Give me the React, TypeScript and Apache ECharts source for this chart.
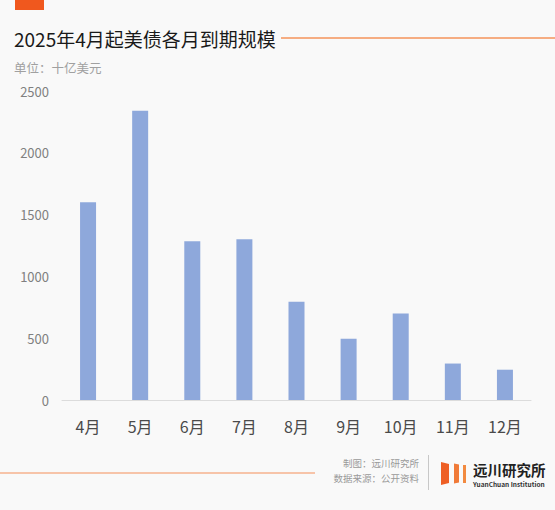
import React, { useEffect, useRef } from "react";
import * as echarts from "echarts";

const categories = ["4月", "5月", "6月", "7月", "8月", "9月", "10月", "11月", "12月"];
const maturities = [1600, 2340, 1285, 1300, 795, 495, 700, 295, 245];
const yTicks = { min: 0, max: 2500, interval: 500 };

const titleText = "2025年4月起美债各月到期规模";
const unitText = "单位：十亿美元";
const creditText = "制图：远川研究所";
const sourceText = "数据来源：公开资料";
const brandText = "远川研究所";
const brandEn = "YuanChuan Institution";

const FONT = '"Noto Sans CJK SC", "Noto Sans", sans-serif';

export default function App() {
  const ref = useRef<HTMLDivElement>(null);
  useEffect(() => {
    document.body.style.margin = "0";
    const chart = echarts.init(ref.current!, null, { renderer: "svg" });
    chart.setOption({
      animation: false,
      backgroundColor: "#F9F9F9",
      textStyle: { fontFamily: FONT },
      grid: { left: 62, right: 24, top: 91, bottom: 110 },
      xAxis: {
        type: "category",
        data: categories,
        axisLine: { lineStyle: { color: "#DCDCDC", width: 1 } },
        axisTick: { show: false },
        axisLabel: { color: "#4A4A4A", fontSize: 16, margin: 18, fontFamily: FONT },
      },
      yAxis: {
        type: "value",
        min: yTicks.min,
        max: yTicks.max,
        interval: yTicks.interval,
        splitLine: { show: false },
        axisLine: { show: false },
        axisTick: { show: false },
        axisLabel: {
          color: "#808080",
          fontSize: 13,
          margin: 13,
          fontFamily: FONT,
          formatter: (v: number) => String(v),
        },
      },
      series: [
        {
          type: "bar",
          data: maturities,
          barWidth: 16,
          itemStyle: { color: "#8EA8DB" },
        },
      ],
      graphic: [
        { type: "rect", shape: { x: 15, y: 0, width: 29, height: 10 }, style: { fill: "#F0581E" } },
        {
          type: "text",
          x: 14,
          y: 38,
          style: { text: titleText, fill: "#1A1A1A", fontSize: 19, fontFamily: FONT, verticalAlign: "middle" },
        },
        { type: "line", shape: { x1: 281, y1: 38, x2: 555, y2: 38 }, style: { stroke: "#F5935A", lineWidth: 1.5 } },
        {
          type: "text",
          x: 14,
          y: 67,
          style: { text: unitText, fill: "#A0A0A0", fontSize: 12.5, fontFamily: FONT, verticalAlign: "middle" },
        },
        { type: "line", shape: { x1: 0, y1: 473, x2: 315, y2: 473 }, style: { stroke: "#F5905A", lineWidth: 1.2 } },
        {
          type: "text",
          x: 419,
          y: 463,
          style: {
            text: creditText, fill: "#9A9A9A", fontSize: 9.5, lineHeight: 10, fontFamily: FONT,
            align: "right", verticalAlign: "middle",
          },
        },
        {
          type: "text",
          x: 419,
          y: 477.5,
          style: {
            text: sourceText, fill: "#9A9A9A", fontSize: 9.5, lineHeight: 10, fontFamily: FONT,
            align: "right", verticalAlign: "middle",
          },
        },
        { type: "line", shape: { x1: 428.5, y1: 455, x2: 428.5, y2: 490 }, style: { stroke: "#C8C8C8", lineWidth: 1 } },
        { type: "polygon", shape: { points: [[441, 462], [449, 464], [449, 483], [441, 485]] }, style: { fill: "#EE5F25" } },
        { type: "polygon", shape: { points: [[454, 463.5], [459, 464.5], [459, 482.5], [454, 483.5]] }, style: { fill: "#F07A38" } },
        { type: "rect", shape: { x: 463, y: 465, width: 3, height: 18 }, style: { fill: "#F28A40" } },
        {
          type: "text",
          x: 473,
          y: 469.5,
          style: {
            text: brandText, fill: "#222222", fontSize: 14.5, lineHeight: 14, fontWeight: "bold", fontFamily: FONT,
            verticalAlign: "middle",
          },
        },
        {
          type: "text",
          x: 473,
          y: 484,
          style: {
            text: brandEn, fill: "#333333", fontSize: 6.5, lineHeight: 7, fontWeight: "bold", fontFamily: FONT,
            verticalAlign: "middle",
          },
        },
      ],
    });
    return () => chart.dispose();
  }, []);
  return <div ref={ref} style={{ width: 555, height: 510 }} />;
}
